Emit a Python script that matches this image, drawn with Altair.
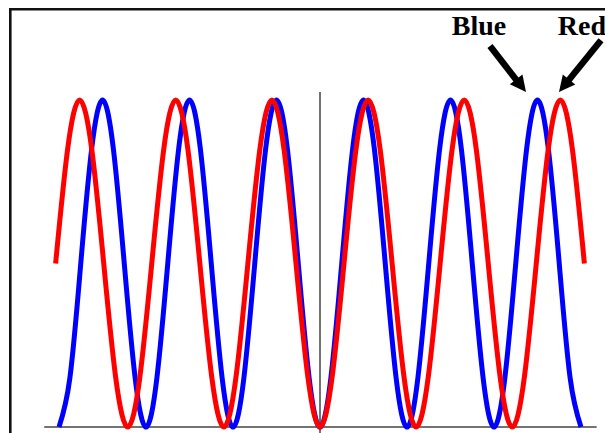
import altair as alt
import pandas as pd

# ---- data ----
blue_x = [-3.0, -2.875, -2.75, -2.625, -2.5, -2.375, -2.25, -2.125,
          -2.0, -1.875, -1.75, -1.625, -1.5, -1.375, -1.25, -1.125,
          -1.0, -0.875, -0.75, -0.625, -0.5, -0.375, -0.25, -0.125,
          0.0, 0.125, 0.25, 0.375, 0.5, 0.625, 0.75, 0.875,
          1.0, 1.125, 1.25, 1.375, 1.5, 1.625, 1.75, 1.875,
          2.0, 2.125, 2.25, 2.375, 2.5, 2.625, 2.75, 2.875, 3.0]
blue_y = [0, .15, .5, .85, 1, .85, .5, .15,
          0, .15, .5, .85, 1, .85, .5, .15,
          0, .15, .5, .85, 1, .85, .5, .15,
          0, .15, .5, .85, 1, .85, .5, .15,
          0, .15, .5, .85, 1, .85, .5, .15,
          0, .15, .5, .85, 1, .85, .5, .15, 0]

red_x = [-3.039, -2.901, -2.763, -2.624, -2.486, -2.348, -2.210, -2.072,
         -1.934, -1.796, -1.658, -1.519, -1.381, -1.243, -1.105, -0.967,
         -0.829, -0.691, -0.553, -0.414, -0.276, -0.138, 0.0,
         0.138, 0.276, 0.414, 0.553, 0.691, 0.829, 0.967, 1.105,
         1.243, 1.381, 1.519, 1.658, 1.796, 1.934, 2.072, 2.210,
         2.348, 2.486, 2.624, 2.763, 2.901, 3.039]
red_y = [.5, .85, 1, .85, .5, .15, 0, .15,
         .5, .85, 1, .85, .5, .15, 0, .15,
         .5, .85, 1, .85, .5, .15, 0,
         .15, .5, .85, 1, .85, .5, .15, 0,
         .15, .5, .85, 1, .85, .5, .15, 0,
         .15, .5, .85, 1, .85, .5]

label_text = ["Blue", "Red"]
label_x = [1.828, 3.01]
label_y = [1.199, 1.199]

arrow_x = [1.954, 3.23]
arrow_y = [1.165, 1.183]
arrow_x2 = [2.293, 2.823]
arrow_y2 = [1.049, 1.049]
head_x = [2.368, 2.747]
head_y = [1.0245, 1.0245]
head_angle = [142, 219]

axis_x = [-3.17, 0.0]
axis_x2 = [3.18, 0.0]
axis_y = [0.0, 1.0245]
axis_y2 = [0.0, -0.05]

W, H = 594, 422
xs = alt.Scale(domain=[-3.552, 3.276], nice=False, zero=False)
ys = alt.Scale(domain=[-0.01835, 1.2722], nice=False, zero=False)

blue_df = pd.DataFrame({"x": blue_x, "y": blue_y})
red_df = pd.DataFrame({"x": red_x, "y": red_y})
lab_df = pd.DataFrame({"label": label_text, "x": label_x, "y": label_y})
arr_df = pd.DataFrame({"x": arrow_x, "y": arrow_y, "x2": arrow_x2, "y2": arrow_y2})
head_df = pd.DataFrame({"x": head_x, "y": head_y, "angle": head_angle})
ax_df = pd.DataFrame({"x": axis_x, "x2": axis_x2, "y": axis_y, "y2": axis_y2})
one = pd.DataFrame({"a": [0]})

X = alt.X("x:Q", scale=xs, axis=None)
Y = alt.Y("y:Q", scale=ys, axis=None)

frame_left = alt.Chart(one).mark_rule(color="#111111", strokeWidth=2.6).encode(
    x=alt.value(-0.7), y=alt.value(-5), y2=alt.value(H + 10))
frame_top = alt.Chart(one).mark_rule(color="#111111", strokeWidth=2.4).encode(
    x=alt.value(-2), x2=alt.value(W + 10), y=alt.value(-1.8))

axes = alt.Chart(ax_df).mark_rule(color="#444444", strokeWidth=1.5).encode(
    x=X, y=Y, x2="x2:Q", y2="y2:Q")

blue = alt.Chart(blue_df).mark_line(color="#0000ff", strokeWidth=5,
                                    interpolate="natural").encode(x=X, y=Y)
red = alt.Chart(red_df).mark_line(color="#ff0000", strokeWidth=5,
                                  interpolate="natural").encode(x=X, y=Y)

labels = alt.Chart(lab_df).mark_text(font="Liberation Serif", fontSize=28,
                                     fontWeight="bold", align="center",
                                     baseline="alphabetic", color="black").encode(
    x=X, y=Y, text="label:N")

shafts = alt.Chart(arr_df).mark_rule(color="black", strokeWidth=6.5,
                                     strokeCap="butt").encode(
    x=X, y=Y, x2="x2:Q", y2="y2:Q")
heads = alt.Chart(head_df).mark_point(shape="M0,0 L-0.5,1 L0.5,1 Z", filled=True,
                                      size=1024, color="black", opacity=1,
                                      strokeWidth=0).encode(
    x=X, y=Y, angle=alt.Angle("angle:Q", scale=None))

chart = alt.layer(frame_left, frame_top, axes, blue, red, labels, shafts, heads).properties(
    width=W, height=H,
    autosize=alt.AutoSizeParams(type="none"),
    padding={"left": 3, "top": 3, "right": 0, "bottom": 0},
    background="white",
).configure_view(stroke=None)

chart.save("out.html", embed_options={"renderer": "svg", "actions": False})
